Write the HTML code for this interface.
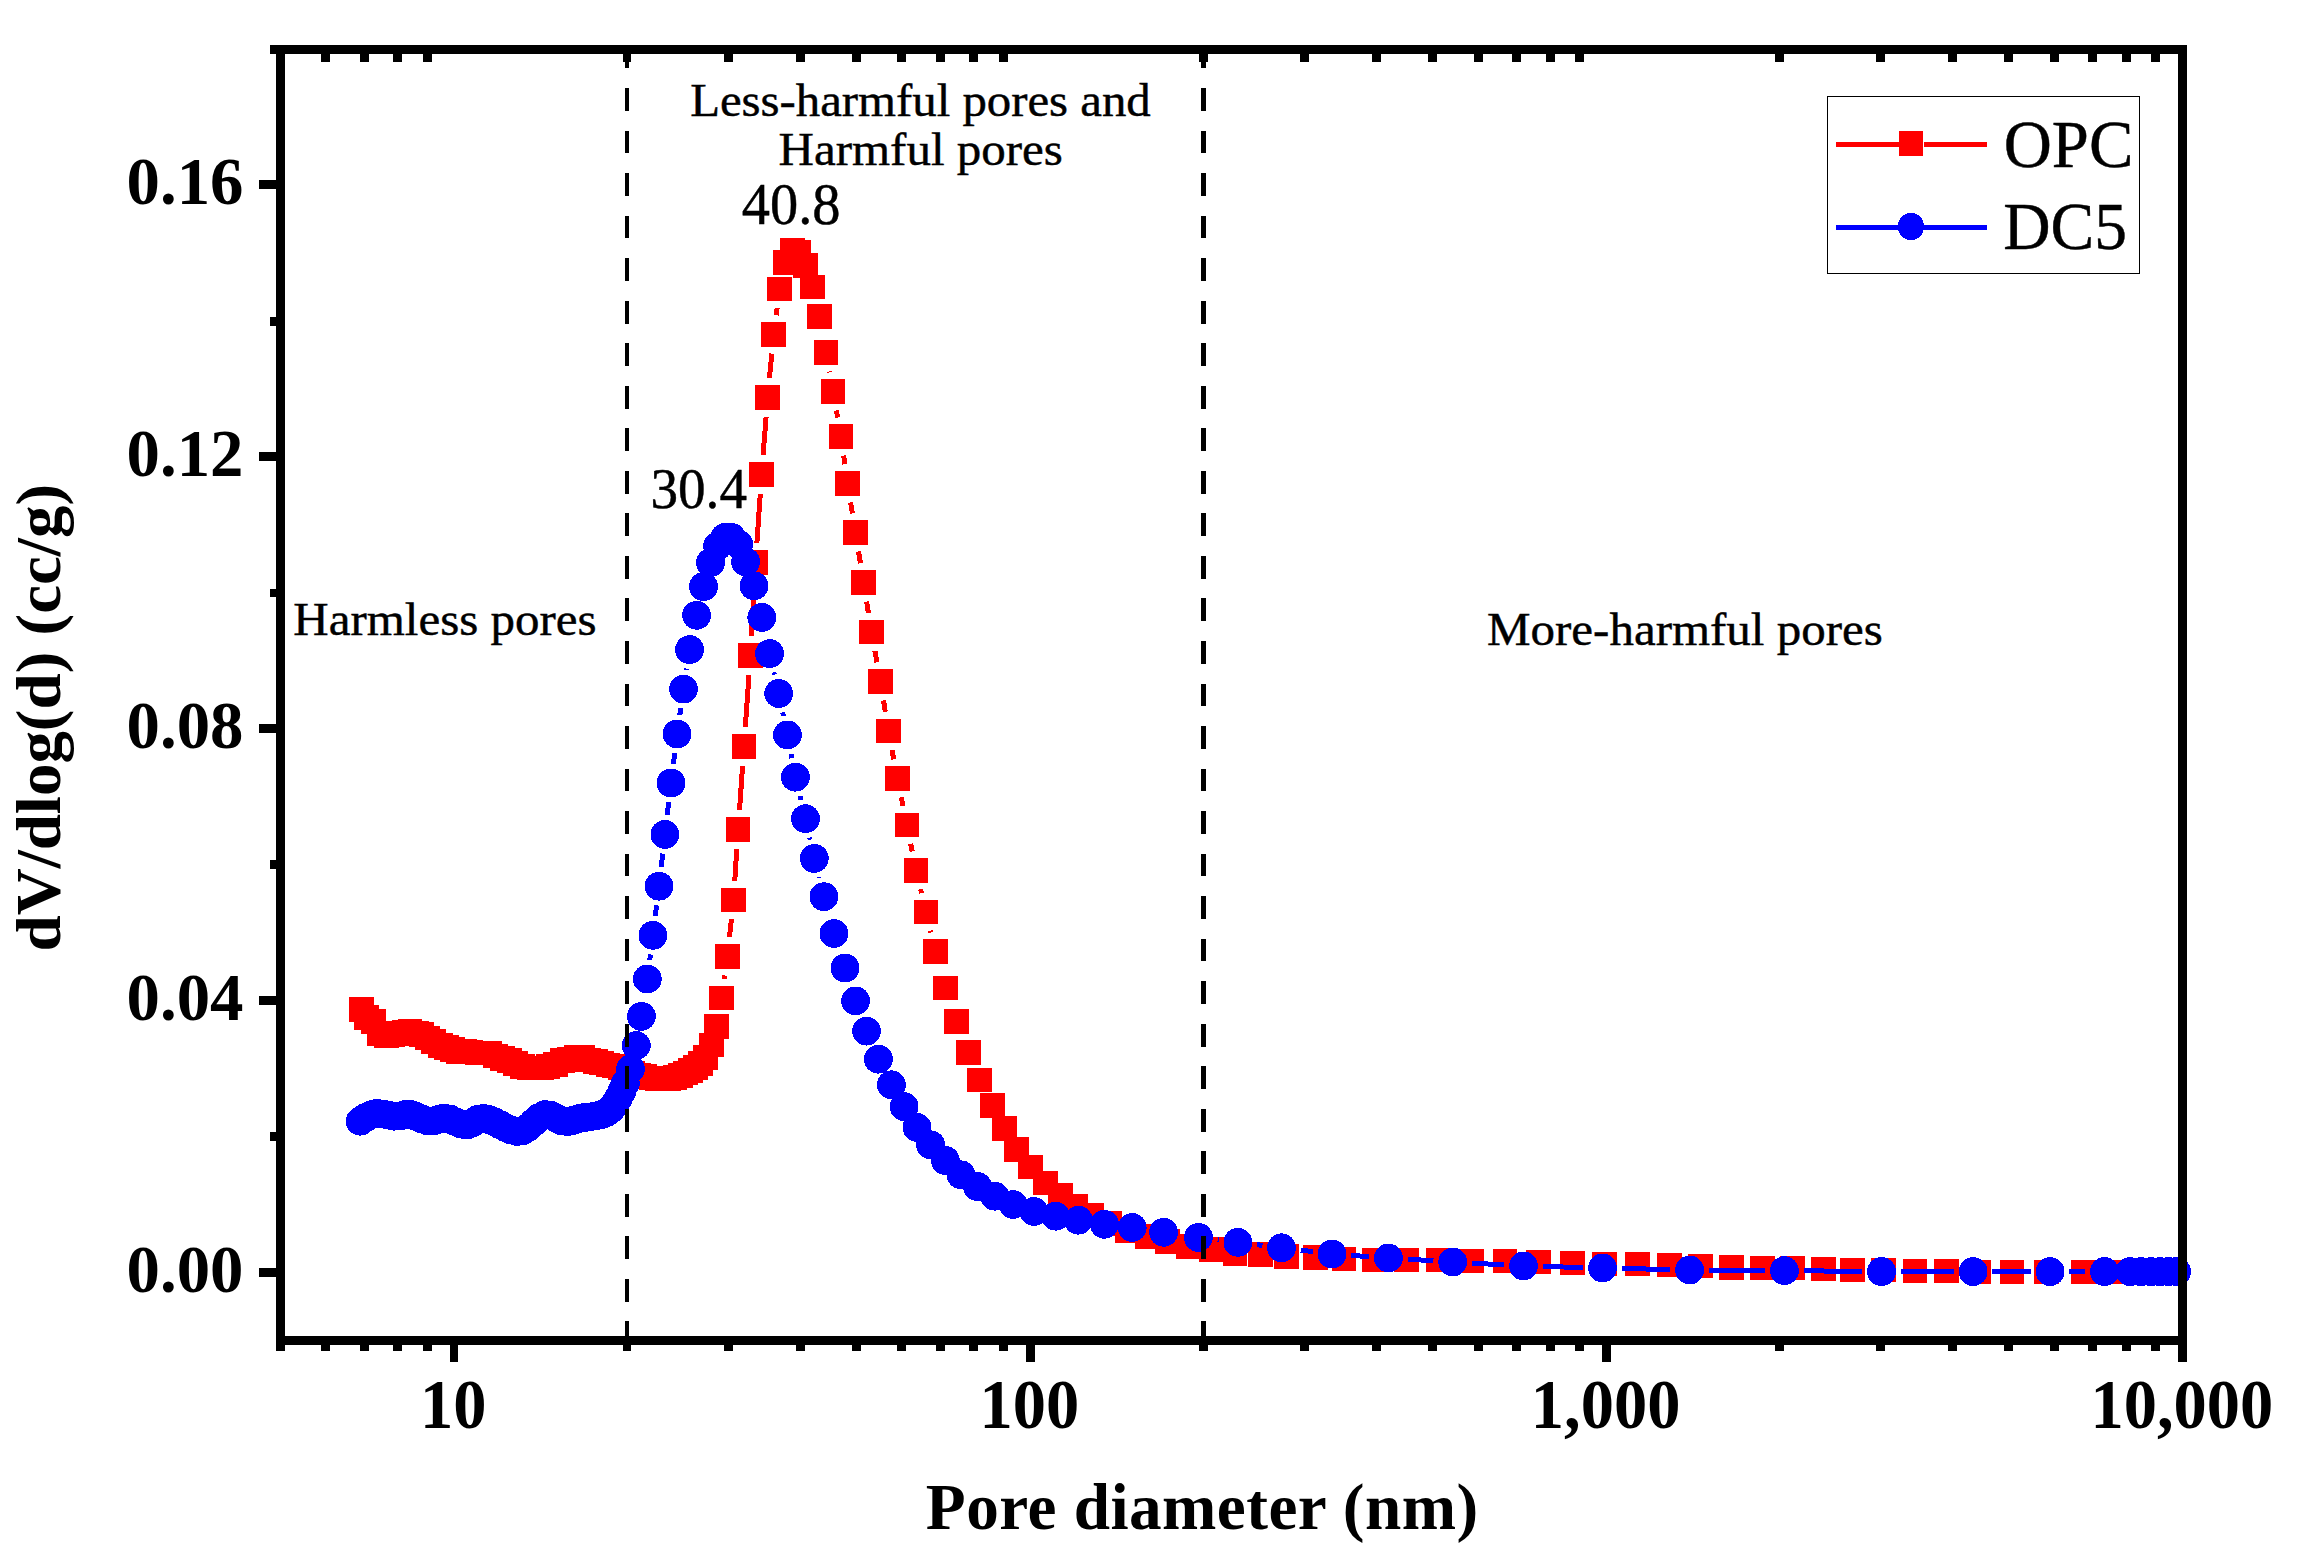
<!DOCTYPE html><html><head><meta charset="utf-8"><title>Pore size distribution</title><style>html,body{margin:0;padding:0;background:#fff}svg{display:block}</style></head><body><svg width="2299" height="1565" viewBox="0 0 2299 1565"><rect width="2299" height="1565" fill="#fff"/><g stroke="#f00" stroke-width="5.0" fill="none" shape-rendering="crispEdges"><line x1="724.2" y1="978.8" x2="724.7" y2="975.4"/><line x1="729.5" y1="937.1" x2="731.4" y2="919.2"/><line x1="734.8" y1="880.7" x2="736.8" y2="848.7"/><line x1="739.5" y1="810.1" x2="742.6" y2="765.7"/><line x1="745.3" y1="727.1" x2="749.0" y2="674.8"/><line x1="751.4" y1="636.2" x2="754.5" y2="581.7"/><line x1="756.9" y1="543.1" x2="760.3" y2="493.8"/><line x1="763.1" y1="455.3" x2="766.1" y2="416.7"/><line x1="769.4" y1="378.3" x2="771.8" y2="353.6"/><line x1="776.1" y1="315.3" x2="777.1" y2="308.1"/><line x1="829.4" y1="371.5" x2="829.6" y2="372.4"/><line x1="836.4" y1="410.4" x2="837.6" y2="417.5"/><line x1="843.6" y1="455.6" x2="844.9" y2="464.3"/><line x1="850.6" y1="502.4" x2="852.4" y2="513.4"/><line x1="858.5" y1="551.5" x2="860.5" y2="563.3"/><line x1="866.6" y1="601.5" x2="868.4" y2="612.9"/><line x1="874.9" y1="651.0" x2="877.0" y2="662.3"/><line x1="883.5" y1="700.4" x2="885.3" y2="711.8"/><line x1="892.0" y1="749.9" x2="893.8" y2="759.4"/><line x1="901.3" y1="797.3" x2="903.0" y2="806.0"/><line x1="910.7" y1="843.8" x2="912.2" y2="851.5"/><line x1="920.5" y1="889.2" x2="921.5" y2="893.1"/><line x1="930.5" y1="930.7" x2="931.0" y2="932.5"/></g><g fill="#f00" shape-rendering="crispEdges"><rect x="349.1" y="997.2" width="24.6" height="24.6"/><rect x="354.2" y="1004.9" width="24.6" height="24.6"/><rect x="361.1" y="1009.1" width="24.6" height="24.6"/><rect x="367.2" y="1021.1" width="24.6" height="24.6"/><rect x="374.1" y="1023.1" width="24.6" height="24.6"/><rect x="380.2" y="1022.5" width="24.6" height="24.6"/><rect x="386.2" y="1021.2" width="24.6" height="24.6"/><rect x="392.2" y="1019.9" width="24.6" height="24.6"/><rect x="397.5" y="1019.3" width="24.6" height="24.6"/><rect x="404.0" y="1021.3" width="24.6" height="24.6"/><rect x="409.2" y="1021.9" width="24.6" height="24.6"/><rect x="415.1" y="1025.8" width="24.6" height="24.6"/><rect x="420.9" y="1029.1" width="24.6" height="24.6"/><rect x="428.1" y="1033.0" width="24.6" height="24.6"/><rect x="434.2" y="1035.0" width="24.6" height="24.6"/><rect x="440.3" y="1036.9" width="24.6" height="24.6"/><rect x="446.1" y="1038.9" width="24.6" height="24.6"/><rect x="452.5" y="1039.2" width="24.6" height="24.6"/><rect x="458.8" y="1039.5" width="24.6" height="24.6"/><rect x="465.3" y="1040.8" width="24.6" height="24.6"/><rect x="471.2" y="1040.8" width="24.6" height="24.6"/><rect x="477.1" y="1040.8" width="24.6" height="24.6"/><rect x="483.2" y="1043.5" width="24.6" height="24.6"/><rect x="490.1" y="1046.1" width="24.6" height="24.6"/><rect x="497.0" y="1048.0" width="24.6" height="24.6"/><rect x="503.2" y="1051.3" width="24.6" height="24.6"/><rect x="510.3" y="1054.3" width="24.6" height="24.6"/><rect x="517.0" y="1055.7" width="24.6" height="24.6"/><rect x="523.1" y="1055.7" width="24.6" height="24.6"/><rect x="529.3" y="1055.7" width="24.6" height="24.6"/><rect x="535.8" y="1054.0" width="24.6" height="24.6"/><rect x="543.0" y="1052.2" width="24.6" height="24.6"/><rect x="550.2" y="1048.2" width="24.6" height="24.6"/><rect x="557.2" y="1047.1" width="24.6" height="24.6"/><rect x="564.2" y="1045.0" width="24.6" height="24.6"/><rect x="570.2" y="1045.0" width="24.6" height="24.6"/><rect x="576.3" y="1047.6" width="24.6" height="24.6"/><rect x="583.0" y="1049.1" width="24.6" height="24.6"/><rect x="589.4" y="1050.8" width="24.6" height="24.6"/><rect x="595.6" y="1052.8" width="24.6" height="24.6"/><rect x="601.7" y="1053.8" width="24.6" height="24.6"/><rect x="608.3" y="1055.4" width="24.6" height="24.6"/><rect x="614.4" y="1058.2" width="24.6" height="24.6"/><rect x="620.5" y="1060.7" width="24.6" height="24.6"/><rect x="626.6" y="1062.7" width="24.6" height="24.6"/><rect x="632.7" y="1064.2" width="24.6" height="24.6"/><rect x="638.7" y="1065.5" width="24.6" height="24.6"/><rect x="644.7" y="1066.1" width="24.6" height="24.6"/><rect x="650.7" y="1066.2" width="24.6" height="24.6"/><rect x="656.7" y="1066.0" width="24.6" height="24.6"/><rect x="662.5" y="1064.9" width="24.6" height="24.6"/><rect x="668.0" y="1063.2" width="24.6" height="24.6"/><rect x="673.2" y="1060.6" width="24.6" height="24.6"/><rect x="678.1" y="1058.0" width="24.6" height="24.6"/><rect x="683.1" y="1055.4" width="24.6" height="24.6"/><rect x="688.2" y="1051.4" width="24.6" height="24.6"/><rect x="693.2" y="1044.9" width="24.6" height="24.6"/><rect x="699.1" y="1032.8" width="24.6" height="24.6"/><rect x="704.2" y="1014.0" width="24.6" height="24.6"/><rect x="709.2" y="985.6" width="24.6" height="24.6"/><rect x="715.1" y="944.0" width="24.6" height="24.6"/><rect x="721.2" y="887.7" width="24.6" height="24.6"/><rect x="725.8" y="817.1" width="24.6" height="24.6"/><rect x="731.7" y="734.1" width="24.6" height="24.6"/><rect x="738.0" y="643.2" width="24.6" height="24.6"/><rect x="743.3" y="550.1" width="24.6" height="24.6"/><rect x="749.3" y="462.2" width="24.6" height="24.6"/><rect x="755.3" y="385.2" width="24.6" height="24.6"/><rect x="761.3" y="322.1" width="24.6" height="24.6"/><rect x="767.3" y="276.7" width="24.6" height="24.6"/><rect x="773.3" y="250.1" width="24.6" height="24.6"/><rect x="780.2" y="238.1" width="24.6" height="24.6"/><rect x="786.3" y="240.1" width="24.6" height="24.6"/><rect x="793.2" y="253.1" width="24.6" height="24.6"/><rect x="800.3" y="274.7" width="24.6" height="24.6"/><rect x="807.2" y="304.1" width="24.6" height="24.6"/><rect x="813.7" y="340.2" width="24.6" height="24.6"/><rect x="820.7" y="379.1" width="24.6" height="24.6"/><rect x="828.7" y="424.2" width="24.6" height="24.6"/><rect x="835.2" y="471.1" width="24.6" height="24.6"/><rect x="843.2" y="520.1" width="24.6" height="24.6"/><rect x="851.2" y="570.1" width="24.6" height="24.6"/><rect x="859.2" y="619.7" width="24.6" height="24.6"/><rect x="868.1" y="669.0" width="24.6" height="24.6"/><rect x="876.1" y="718.6" width="24.6" height="24.6"/><rect x="885.1" y="766.1" width="24.6" height="24.6"/><rect x="894.6" y="812.6" width="24.6" height="24.6"/><rect x="903.7" y="858.1" width="24.6" height="24.6"/><rect x="913.7" y="899.6" width="24.6" height="24.6"/><rect x="923.2" y="939.0" width="24.6" height="24.6"/><rect x="933.1" y="975.5" width="24.6" height="24.6"/><rect x="944.1" y="1009.1" width="24.6" height="24.6"/><rect x="956.2" y="1040.2" width="24.6" height="24.6"/><rect x="967.1" y="1067.6" width="24.6" height="24.6"/><rect x="980.1" y="1093.3" width="24.6" height="24.6"/><rect x="992.1" y="1116.2" width="24.6" height="24.6"/><rect x="1004.4" y="1137.1" width="24.6" height="24.6"/><rect x="1018.1" y="1154.6" width="24.6" height="24.6"/><rect x="1033.2" y="1170.6" width="24.6" height="24.6"/><rect x="1048.3" y="1183.0" width="24.6" height="24.6"/><rect x="1063.3" y="1193.6" width="24.6" height="24.6"/><rect x="1079.3" y="1203.0" width="24.6" height="24.6"/><rect x="1097.5" y="1211.0" width="24.6" height="24.6"/><rect x="1114.9" y="1218.0" width="24.6" height="24.6"/><rect x="1134.9" y="1224.1" width="24.6" height="24.6"/><rect x="1154.9" y="1228.9" width="24.6" height="24.6"/><rect x="1176.3" y="1234.1" width="24.6" height="24.6"/><rect x="1199.3" y="1237.1" width="24.6" height="24.6"/><rect x="1222.8" y="1241.1" width="24.6" height="24.6"/><rect x="1248.0" y="1242.3" width="24.6" height="24.6"/><rect x="1274.1" y="1244.1" width="24.6" height="24.6"/><rect x="1303.0" y="1245.4" width="24.6" height="24.6"/><rect x="1331.5" y="1246.5" width="24.6" height="24.6"/><rect x="1362.2" y="1247.7" width="24.6" height="24.6"/><rect x="1394.2" y="1247.7" width="24.6" height="24.6"/><rect x="1426.3" y="1247.7" width="24.6" height="24.6"/><rect x="1459.3" y="1248.7" width="24.6" height="24.6"/><rect x="1492.8" y="1248.7" width="24.6" height="24.6"/><rect x="1526.3" y="1249.7" width="24.6" height="24.6"/><rect x="1560.3" y="1250.7" width="24.6" height="24.6"/><rect x="1592.3" y="1251.7" width="24.6" height="24.6"/><rect x="1625.3" y="1251.7" width="24.6" height="24.6"/><rect x="1656.9" y="1252.7" width="24.6" height="24.6"/><rect x="1688.4" y="1253.7" width="24.6" height="24.6"/><rect x="1719.3" y="1255.0" width="24.6" height="24.6"/><rect x="1750.0" y="1255.7" width="24.6" height="24.6"/><rect x="1780.2" y="1255.7" width="24.6" height="24.6"/><rect x="1811.2" y="1256.7" width="24.6" height="24.6"/><rect x="1840.2" y="1257.7" width="24.6" height="24.6"/><rect x="1871.3" y="1257.7" width="24.6" height="24.6"/><rect x="1902.8" y="1258.7" width="24.6" height="24.6"/><rect x="1934.3" y="1258.7" width="24.6" height="24.6"/><rect x="1966.3" y="1259.7" width="24.6" height="24.6"/><rect x="1999.8" y="1259.7" width="24.6" height="24.6"/><rect x="2034.3" y="1259.7" width="24.6" height="24.6"/><rect x="2071.3" y="1259.7" width="24.6" height="24.6"/><rect x="2103.7" y="1259.7" width="24.6" height="24.6"/><rect x="2135.7" y="1259.7" width="24.6" height="24.6"/></g><g stroke="#00f" stroke-width="5.0" fill="none" shape-rendering="crispEdges"><line x1="649.8" y1="959.9" x2="650.4" y2="954.4"/><line x1="655.3" y1="916.1" x2="656.6" y2="905.4"/><line x1="661.2" y1="867.0" x2="662.7" y2="853.6"/><line x1="667.2" y1="815.2" x2="668.7" y2="802.2"/><line x1="673.4" y1="763.8" x2="674.7" y2="753.2"/><line x1="679.8" y1="714.9" x2="680.8" y2="708.2"/><line x1="686.4" y1="670.0" x2="686.7" y2="668.7"/><line x1="773.9" y1="672.4" x2="774.4" y2="674.7"/><line x1="782.7" y1="712.4" x2="783.4" y2="716.0"/><line x1="791.0" y1="753.9" x2="791.8" y2="758.2"/><line x1="800.0" y1="796.0" x2="800.9" y2="799.9"/><line x1="809.7" y1="837.5" x2="810.1" y2="839.6"/><line x1="819.0" y1="877.1" x2="819.2" y2="878.0"/><line x1="1217.6" y1="1239.8" x2="1218.7" y2="1239.9"/><line x1="1257.0" y1="1244.7" x2="1262.4" y2="1245.4"/><line x1="1300.7" y1="1250.2" x2="1312.8" y2="1251.6"/><line x1="1351.3" y1="1255.4" x2="1369.1" y2="1256.6"/><line x1="1407.7" y1="1259.2" x2="1433.4" y2="1260.8"/><line x1="1472.0" y1="1263.1" x2="1504.2" y2="1264.9"/><line x1="1542.8" y1="1266.5" x2="1583.2" y2="1267.5"/><line x1="1621.8" y1="1268.4" x2="1670.3" y2="1269.6"/><line x1="1708.9" y1="1270.1" x2="1765.1" y2="1270.5"/><line x1="1803.7" y1="1270.8" x2="1862.2" y2="1271.4"/><line x1="1900.8" y1="1271.6" x2="1953.8" y2="1271.6"/><line x1="1992.4" y1="1271.6" x2="2030.8" y2="1271.6"/><line x1="2069.4" y1="1271.6" x2="2085.2" y2="1271.6"/></g><g fill="#00f" shape-rendering="crispEdges"><circle cx="360.2" cy="1121.2" r="14.4"/><circle cx="365.8" cy="1117.4" r="14.4"/><circle cx="371.4" cy="1114.7" r="14.4"/><circle cx="377.0" cy="1113.4" r="14.4"/><circle cx="382.6" cy="1113.9" r="14.4"/><circle cx="388.2" cy="1115.1" r="14.4"/><circle cx="393.8" cy="1116.2" r="14.4"/><circle cx="399.4" cy="1116.1" r="14.4"/><circle cx="405.0" cy="1114.5" r="14.4"/><circle cx="410.6" cy="1114.6" r="14.4"/><circle cx="416.2" cy="1116.5" r="14.4"/><circle cx="421.8" cy="1118.9" r="14.4"/><circle cx="427.4" cy="1120.8" r="14.4"/><circle cx="433.0" cy="1121.0" r="14.4"/><circle cx="438.6" cy="1119.3" r="14.4"/><circle cx="444.2" cy="1118.1" r="14.4"/><circle cx="449.8" cy="1119.1" r="14.4"/><circle cx="455.4" cy="1121.6" r="14.4"/><circle cx="461.0" cy="1124.0" r="14.4"/><circle cx="466.6" cy="1125.1" r="14.4"/><circle cx="472.2" cy="1123.0" r="14.4"/><circle cx="477.8" cy="1119.4" r="14.4"/><circle cx="483.4" cy="1118.4" r="14.4"/><circle cx="489.0" cy="1119.6" r="14.4"/><circle cx="494.6" cy="1122.0" r="14.4"/><circle cx="500.2" cy="1124.8" r="14.4"/><circle cx="505.8" cy="1127.7" r="14.4"/><circle cx="511.4" cy="1130.1" r="14.4"/><circle cx="517.0" cy="1131.5" r="14.4"/><circle cx="522.6" cy="1130.9" r="14.4"/><circle cx="528.2" cy="1127.4" r="14.4"/><circle cx="533.8" cy="1122.3" r="14.4"/><circle cx="539.4" cy="1117.5" r="14.4"/><circle cx="545.0" cy="1114.6" r="14.4"/><circle cx="550.6" cy="1115.2" r="14.4"/><circle cx="556.2" cy="1118.0" r="14.4"/><circle cx="561.8" cy="1120.9" r="14.4"/><circle cx="567.4" cy="1121.6" r="14.4"/><circle cx="573.0" cy="1120.4" r="14.4"/><circle cx="578.6" cy="1118.6" r="14.4"/><circle cx="584.2" cy="1117.6" r="14.4"/><circle cx="589.8" cy="1116.9" r="14.4"/><circle cx="595.4" cy="1116.0" r="14.4"/><circle cx="601.5" cy="1114.5" r="14.4"/><circle cx="606.4" cy="1112.6" r="14.4"/><circle cx="611.0" cy="1109.1" r="14.4"/><circle cx="615.0" cy="1104.1" r="14.4"/><circle cx="618.6" cy="1097.9" r="14.4"/><circle cx="622.0" cy="1091.1" r="14.4"/><circle cx="625.3" cy="1083.5" r="14.4"/><circle cx="630.5" cy="1069.0" r="14.4"/><circle cx="636.3" cy="1045.5" r="14.4"/><circle cx="641.4" cy="1016.4" r="14.4"/><circle cx="647.3" cy="979.0" r="14.4"/><circle cx="652.9" cy="935.3" r="14.4"/><circle cx="659.0" cy="886.2" r="14.4"/><circle cx="664.9" cy="834.4" r="14.4"/><circle cx="671.0" cy="783.0" r="14.4"/><circle cx="677.1" cy="734.0" r="14.4"/><circle cx="683.5" cy="689.1" r="14.4"/><circle cx="689.6" cy="649.6" r="14.4"/><circle cx="696.6" cy="615.3" r="14.4"/><circle cx="703.5" cy="586.6" r="14.4"/><circle cx="710.5" cy="562.6" r="14.4"/><circle cx="717.6" cy="546.1" r="14.4"/><circle cx="724.9" cy="537.4" r="14.4"/><circle cx="731.4" cy="537.4" r="14.4"/><circle cx="738.7" cy="544.4" r="14.4"/><circle cx="745.6" cy="561.8" r="14.4"/><circle cx="754.0" cy="585.8" r="14.4"/><circle cx="761.8" cy="617.4" r="14.4"/><circle cx="769.6" cy="653.6" r="14.4"/><circle cx="778.7" cy="693.5" r="14.4"/><circle cx="787.4" cy="734.9" r="14.4"/><circle cx="795.4" cy="777.2" r="14.4"/><circle cx="805.5" cy="818.7" r="14.4"/><circle cx="814.3" cy="858.4" r="14.4"/><circle cx="823.9" cy="896.7" r="14.4"/><circle cx="834.0" cy="933.5" r="14.4"/><circle cx="845.0" cy="968.0" r="14.4"/><circle cx="855.6" cy="1000.9" r="14.4"/><circle cx="866.5" cy="1031.1" r="14.4"/><circle cx="878.4" cy="1059.2" r="14.4"/><circle cx="891.4" cy="1084.8" r="14.4"/><circle cx="904.1" cy="1106.6" r="14.4"/><circle cx="917.0" cy="1127.4" r="14.4"/><circle cx="930.6" cy="1144.8" r="14.4"/><circle cx="945.4" cy="1160.5" r="14.4"/><circle cx="961.0" cy="1174.8" r="14.4"/><circle cx="977.5" cy="1186.6" r="14.4"/><circle cx="994.9" cy="1196.2" r="14.4"/><circle cx="1013.1" cy="1204.5" r="14.4"/><circle cx="1033.9" cy="1211.5" r="14.4"/><circle cx="1055.7" cy="1216.2" r="14.4"/><circle cx="1078.3" cy="1220.2" r="14.4"/><circle cx="1104.4" cy="1224.3" r="14.4"/><circle cx="1132.2" cy="1227.5" r="14.4"/><circle cx="1163.6" cy="1232.3" r="14.4"/><circle cx="1198.4" cy="1237.4" r="14.4"/><circle cx="1237.9" cy="1242.3" r="14.4"/><circle cx="1281.5" cy="1247.8" r="14.4"/><circle cx="1332.0" cy="1254.0" r="14.4"/><circle cx="1388.4" cy="1258.0" r="14.4"/><circle cx="1452.7" cy="1262.0" r="14.4"/><circle cx="1523.5" cy="1266.0" r="14.4"/><circle cx="1602.5" cy="1268.0" r="14.4"/><circle cx="1689.6" cy="1270.0" r="14.4"/><circle cx="1784.4" cy="1270.6" r="14.4"/><circle cx="1881.5" cy="1271.6" r="14.4"/><circle cx="1973.1" cy="1271.6" r="14.4"/><circle cx="2050.1" cy="1271.6" r="14.4"/><circle cx="2104.5" cy="1271.6" r="14.4"/><circle cx="2130.0" cy="1271.6" r="14.4"/><circle cx="2141.0" cy="1271.6" r="14.4"/><circle cx="2151.0" cy="1271.6" r="14.4"/><circle cx="2160.0" cy="1271.6" r="14.4"/><circle cx="2168.5" cy="1271.6" r="14.4"/><circle cx="2176.5" cy="1271.6" r="14.4"/></g><rect x="1827.5" y="96.5" width="312" height="177" fill="#fff" stroke="#000" stroke-width="1" shape-rendering="crispEdges"/><g shape-rendering="crispEdges"><rect x="1836" y="142" width="151" height="5" fill="#f00"/><rect x="1899" y="131" width="24" height="25" fill="#f00"/><rect x="1923" y="142" width="1" height="5" fill="#fff"/><rect x="1836" y="225" width="151" height="5" fill="#00f"/><ellipse cx="1911" cy="226.5" rx="13.1" ry="13.6" fill="#00f"/></g><g fill="#000" shape-rendering="crispEdges"><rect x="270" y="45" width="1917" height="9"/><rect x="276" y="45" width="9" height="1306"/><rect x="276" y="1336" width="1911" height="9"/><rect x="2178" y="45" width="9" height="1317"/><rect x="259" y="1268.0" width="17" height="9.0"/><rect x="259" y="996.0" width="17" height="9.0"/><rect x="259" y="724.0" width="17" height="9.0"/><rect x="259" y="452.0" width="17" height="9.0"/><rect x="259" y="180.0" width="17" height="9.0"/><rect x="270" y="317" width="6" height="9"/><rect x="270" y="589" width="6" height="8"/><rect x="270" y="860" width="6" height="9"/><rect x="270" y="1132" width="6" height="9"/><rect x="321" y="1345" width="9" height="6"/><rect x="321" y="54" width="9" height="8"/><rect x="360" y="1345" width="9" height="6"/><rect x="360" y="54" width="9" height="8"/><rect x="393" y="1345" width="9" height="6"/><rect x="393" y="54" width="9" height="8"/><rect x="423" y="1345" width="9" height="6"/><rect x="423" y="54" width="9" height="8"/><rect x="450" y="1345" width="8" height="17"/><rect x="623" y="1345" width="8" height="6"/><rect x="623" y="54" width="8" height="8"/><rect x="724" y="1345" width="9" height="6"/><rect x="724" y="54" width="9" height="8"/><rect x="796" y="1345" width="9" height="6"/><rect x="796" y="54" width="9" height="8"/><rect x="852" y="1345" width="9" height="6"/><rect x="852" y="54" width="9" height="8"/><rect x="897" y="1345" width="9" height="6"/><rect x="897" y="54" width="9" height="8"/><rect x="936" y="1345" width="9" height="6"/><rect x="936" y="54" width="9" height="8"/><rect x="969" y="1345" width="9" height="6"/><rect x="969" y="54" width="9" height="8"/><rect x="999" y="1345" width="9" height="6"/><rect x="999" y="54" width="9" height="8"/><rect x="1026" y="1345" width="9" height="17"/><rect x="1199" y="1345" width="9" height="6"/><rect x="1199" y="54" width="9" height="8"/><rect x="1300" y="1345" width="9" height="6"/><rect x="1300" y="54" width="9" height="8"/><rect x="1372" y="1345" width="9" height="6"/><rect x="1372" y="54" width="9" height="8"/><rect x="1428" y="1345" width="9" height="6"/><rect x="1428" y="54" width="9" height="8"/><rect x="1474" y="1345" width="9" height="6"/><rect x="1474" y="54" width="9" height="8"/><rect x="1512" y="1345" width="9" height="6"/><rect x="1512" y="54" width="9" height="8"/><rect x="1546" y="1345" width="9" height="6"/><rect x="1546" y="54" width="9" height="8"/><rect x="1575" y="1345" width="9" height="6"/><rect x="1575" y="54" width="9" height="8"/><rect x="1602" y="1345" width="9" height="17"/><rect x="1775" y="1345" width="9" height="6"/><rect x="1775" y="54" width="9" height="8"/><rect x="1876" y="1345" width="9" height="6"/><rect x="1876" y="54" width="9" height="8"/><rect x="1948" y="1345" width="9" height="6"/><rect x="1948" y="54" width="9" height="8"/><rect x="2004" y="1345" width="9" height="6"/><rect x="2004" y="54" width="9" height="8"/><rect x="2050" y="1345" width="9" height="6"/><rect x="2050" y="54" width="9" height="8"/><rect x="2088" y="1345" width="9" height="6"/><rect x="2088" y="54" width="9" height="8"/><rect x="2122" y="1345" width="9" height="6"/><rect x="2122" y="54" width="9" height="8"/><rect x="2151" y="1345" width="9" height="6"/><rect x="2151" y="54" width="9" height="8"/></g><g fill="#000" shape-rendering="crispEdges"><rect x="625" y="45.5" width="4" height="22.8"/><rect x="625" y="88.0" width="4" height="22.8"/><rect x="625" y="130.6" width="4" height="22.8"/><rect x="625" y="173.1" width="4" height="22.8"/><rect x="625" y="215.6" width="4" height="22.8"/><rect x="625" y="258.1" width="4" height="22.8"/><rect x="625" y="300.7" width="4" height="22.8"/><rect x="625" y="343.2" width="4" height="22.8"/><rect x="625" y="385.7" width="4" height="22.8"/><rect x="625" y="428.3" width="4" height="22.8"/><rect x="625" y="470.8" width="4" height="22.8"/><rect x="625" y="513.3" width="4" height="22.8"/><rect x="625" y="555.9" width="4" height="22.8"/><rect x="625" y="598.4" width="4" height="22.8"/><rect x="625" y="640.9" width="4" height="22.8"/><rect x="625" y="683.5" width="4" height="22.8"/><rect x="625" y="726.0" width="4" height="22.8"/><rect x="625" y="768.5" width="4" height="22.8"/><rect x="625" y="811.0" width="4" height="22.8"/><rect x="625" y="853.6" width="4" height="22.8"/><rect x="625" y="896.1" width="4" height="22.8"/><rect x="625" y="938.6" width="4" height="22.8"/><rect x="625" y="981.2" width="4" height="22.8"/><rect x="625" y="1023.7" width="4" height="22.8"/><rect x="625" y="1066.2" width="4" height="22.8"/><rect x="625" y="1108.8" width="4" height="22.8"/><rect x="625" y="1151.3" width="4" height="22.8"/><rect x="625" y="1193.8" width="4" height="22.8"/><rect x="625" y="1236.3" width="4" height="22.8"/><rect x="625" y="1278.9" width="4" height="22.8"/><rect x="625" y="1321.4" width="4" height="18.6"/><rect x="1201" y="45.5" width="5" height="22.8"/><rect x="1201" y="88.0" width="5" height="22.8"/><rect x="1201" y="130.6" width="5" height="22.8"/><rect x="1201" y="173.1" width="5" height="22.8"/><rect x="1201" y="215.6" width="5" height="22.8"/><rect x="1201" y="258.1" width="5" height="22.8"/><rect x="1201" y="300.7" width="5" height="22.8"/><rect x="1201" y="343.2" width="5" height="22.8"/><rect x="1201" y="385.7" width="5" height="22.8"/><rect x="1201" y="428.3" width="5" height="22.8"/><rect x="1201" y="470.8" width="5" height="22.8"/><rect x="1201" y="513.3" width="5" height="22.8"/><rect x="1201" y="555.9" width="5" height="22.8"/><rect x="1201" y="598.4" width="5" height="22.8"/><rect x="1201" y="640.9" width="5" height="22.8"/><rect x="1201" y="683.5" width="5" height="22.8"/><rect x="1201" y="726.0" width="5" height="22.8"/><rect x="1201" y="768.5" width="5" height="22.8"/><rect x="1201" y="811.0" width="5" height="22.8"/><rect x="1201" y="853.6" width="5" height="22.8"/><rect x="1201" y="896.1" width="5" height="22.8"/><rect x="1201" y="938.6" width="5" height="22.8"/><rect x="1201" y="981.2" width="5" height="22.8"/><rect x="1201" y="1023.7" width="5" height="22.8"/><rect x="1201" y="1066.2" width="5" height="22.8"/><rect x="1201" y="1108.8" width="5" height="22.8"/><rect x="1201" y="1151.3" width="5" height="22.8"/><rect x="1201" y="1193.8" width="5" height="22.8"/><rect x="1201" y="1236.3" width="5" height="22.8"/><rect x="1201" y="1278.9" width="5" height="22.8"/><rect x="1201" y="1321.4" width="5" height="18.6"/></g><g font-family="'Liberation Serif', serif" fill="#000"><text transform="translate(243.50 1292.40) scale(1.0120 1.0400)" font-size="66" text-anchor="end" font-weight="bold">0.00</text><text transform="translate(243.50 1020.40) scale(1.0120 1.0400)" font-size="66" text-anchor="end" font-weight="bold">0.04</text><text transform="translate(243.50 748.40) scale(1.0120 1.0400)" font-size="66" text-anchor="end" font-weight="bold">0.08</text><text transform="translate(243.50 476.40) scale(1.0120 1.0400)" font-size="66" text-anchor="end" font-weight="bold">0.12</text><text transform="translate(243.50 204.40) scale(1.0120 1.0400)" font-size="66" text-anchor="end" font-weight="bold">0.16</text><text transform="translate(453.20 1428.30) scale(1.0070 1.0450)" font-size="66" text-anchor="middle" font-weight="bold">10</text><text transform="translate(1029.40 1428.30) scale(1.0070 1.0450)" font-size="66" text-anchor="middle" font-weight="bold">100</text><text transform="translate(1605.60 1428.30) scale(1.0070 1.0450)" font-size="66" text-anchor="middle" font-weight="bold">1,000</text><text transform="translate(2181.80 1428.30) scale(1.0070 1.0450)" font-size="66" text-anchor="middle" font-weight="bold">10,000</text><text transform="translate(1202.30 1528.70) scale(0.9890 0.9900)" font-size="66" text-anchor="middle" font-weight="bold" letter-spacing="0.45">Pore diameter (nm)</text><text transform="translate(59.70 717.70) rotate(-90) scale(1.0000 0.9730)" font-size="65" text-anchor="middle" font-weight="bold">dV/dlog(d) (cc/g)</text><text transform="translate(920.40 116.20) scale(1.0040 0.9600)" font-size="48.6" text-anchor="middle" stroke="#000" stroke-width="0.45">Less-harmful pores and</text><text transform="translate(920.70 165.20) scale(1.0080 0.9600)" font-size="48.6" text-anchor="middle" stroke="#000" stroke-width="0.45">Harmful pores</text><text transform="translate(445.00 635.20) scale(1.0080 0.9650)" font-size="48.6" text-anchor="middle" stroke="#000" stroke-width="0.45">Harmless pores</text><text transform="translate(1684.90 645.20) scale(1.0080 0.9650)" font-size="48.6" text-anchor="middle" stroke="#000" stroke-width="0.45">More-harmful pores</text><text transform="translate(791.10 224.10) scale(0.9990 1.0500)" font-size="56.5" text-anchor="middle" stroke="#000" stroke-width="0.45">40.8</text><text transform="translate(698.70 507.90) scale(0.9760 1.0150)" font-size="56.5" text-anchor="middle" stroke="#000" stroke-width="0.45">30.4</text><text transform="translate(2003.70 166.60) scale(1.0100 1.0400)" font-size="66" text-anchor="start" stroke="#000" stroke-width="0.45">OPC</text><text transform="translate(2003.30 249.30) scale(0.9920 1.0400)" font-size="66" text-anchor="start" stroke="#000" stroke-width="0.45">DC5</text></g></svg></body></html>
